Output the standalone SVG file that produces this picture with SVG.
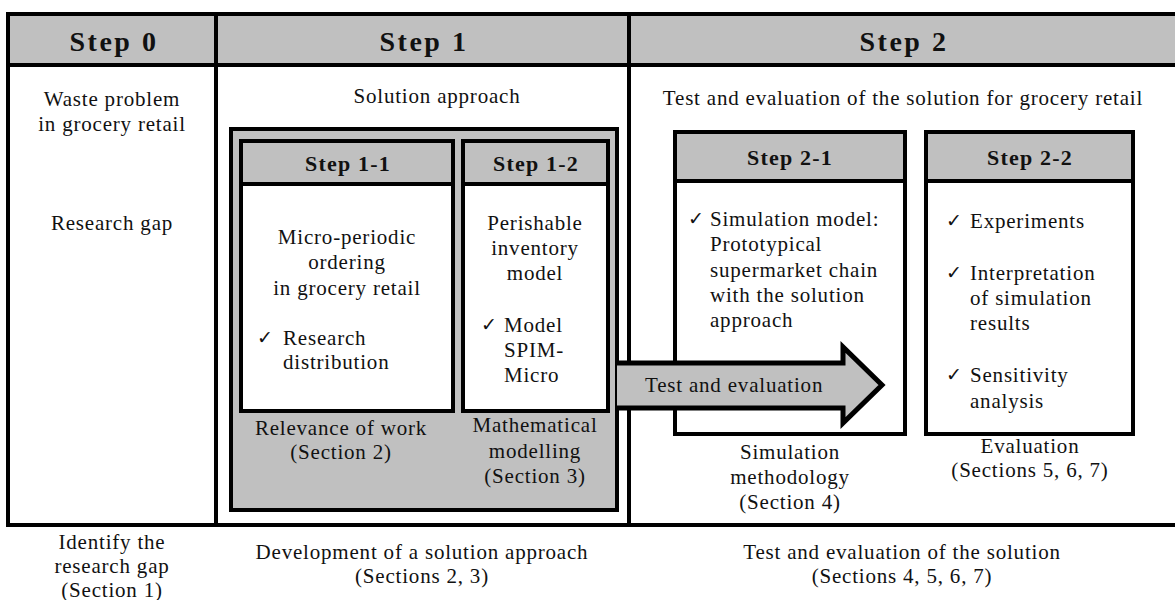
<svg xmlns="http://www.w3.org/2000/svg" width="1175" height="600" viewBox="0 0 1175 600">
<style>
text{font-family:"Liberation Serif","DejaVu Serif",serif;font-size:21px;letter-spacing:0.8px;fill:#111;dominant-baseline:central}
.c{text-anchor:middle}
.h{font-size:28px;font-weight:bold;letter-spacing:2.5px}
.sh{font-size:22px;font-weight:bold;letter-spacing:1.2px}
.ck{font-family:"DejaVu Sans",sans-serif;font-size:19px;font-weight:bold;letter-spacing:0}
.g{fill:#c0c0c0}
.b{fill:none;stroke:#000;stroke-width:4}
.w{fill:#fff;stroke:#000;stroke-width:4}
</style>
<rect width="1175" height="600" fill="#fff"/>
<g id="table">
<rect x="8" y="14" width="1172" height="51" class="g"/>
<rect x="8" y="14" width="1172" height="511" class="b"/>
<line x1="8" y1="65" x2="1180" y2="65" stroke="#000" stroke-width="4"/>
<line x1="216" y1="14" x2="216" y2="525" stroke="#000" stroke-width="4"/>
<line x1="629" y1="14" x2="629" y2="525" stroke="#000" stroke-width="4"/>
<text x="114" y="41" class="c h">Step 0</text>
<text x="424" y="41" class="c h">Step 1</text>
<text x="904" y="41" class="c h">Step 2</text>
</g>
<g id="step0">
<text x="112" y="99" class="c">Waste problem</text>
<text x="112" y="124" class="c">in grocery retail</text>
<text x="112" y="223" class="c">Research gap</text>
<text x="112" y="542" class="c">Identify the</text>
<text x="112" y="566" class="c">research gap</text>
<text x="112" y="590" class="c">(Section 1)</text>
</g>
<g id="step1">
<text x="437" y="96" class="c">Solution approach</text>
<rect x="231" y="129" width="386" height="381" class="g" stroke="#000" stroke-width="4"/>
<text x="341" y="428" class="c">Relevance of work</text>
<text x="341" y="452" class="c">(Section 2)</text>
<text x="535" y="425" class="c">Mathematical</text>
<text x="535" y="451" class="c">modelling</text>
<text x="535" y="476" class="c">(Section 3)</text>
<text x="422" y="552" class="c">Development of a solution approach</text>
<text x="422" y="576" class="c">(Sections 2, 3)</text>
</g>
<g id="step1-1">
<rect x="241" y="141" width="212" height="270" class="w"/>
<rect x="243" y="143" width="208" height="40" class="g"/>
<line x1="241" y1="184" x2="453" y2="184" stroke="#000" stroke-width="4"/>
<text x="348" y="163" class="c sh">Step 1-1</text>
<text x="347" y="237" class="c">Micro-periodic</text>
<text x="347" y="262" class="c">ordering</text>
<text x="347" y="288" class="c">in grocery retail</text>
<text x="257" y="337" class="ck">✓</text>
<text x="283" y="338">Research</text>
<text x="283" y="362">distribution</text>
</g>
<g id="step1-2">
<rect x="463" y="141" width="145" height="270" class="w"/>
<rect x="465" y="143" width="141" height="40" class="g"/>
<line x1="463" y1="184" x2="608" y2="184" stroke="#000" stroke-width="4"/>
<text x="536" y="163" class="c sh">Step 1-2</text>
<text x="535" y="223" class="c">Perishable</text>
<text x="535" y="248" class="c">inventory</text>
<text x="535" y="273" class="c">model</text>
<text x="481" y="324" class="ck">✓</text>
<text x="504" y="325">Model</text>
<text x="504" y="350">SPIM-</text>
<text x="504" y="375">Micro</text>
</g>
<g id="step2">
<text x="903" y="98" class="c">Test and evaluation of the solution for grocery retail</text>
<text x="902" y="552" class="c">Test and evaluation of the solution</text>
<text x="902" y="576" class="c">(Sections 4, 5, 6, 7)</text>
</g>
<g id="step2-1">
<rect x="675" y="132" width="230" height="302" class="w"/>
<rect x="677" y="134" width="226" height="46" class="g"/>
<line x1="675" y1="181" x2="905" y2="181" stroke="#000" stroke-width="4"/>
<text x="790" y="157" class="c sh">Step 2-1</text>
<text x="688" y="218" class="ck">✓</text>
<text x="710" y="219">Simulation model:</text>
<text x="710" y="244">Prototypical</text>
<text x="710" y="270">supermarket chain</text>
<text x="710" y="295">with the solution</text>
<text x="710" y="320">approach</text>
<text x="790" y="452" class="c">Simulation</text>
<text x="790" y="477" class="c">methodology</text>
<text x="790" y="502" class="c">(Section 4)</text>
</g>
<g id="step2-2">
<rect x="926" y="132" width="207" height="302" class="w"/>
<rect x="928" y="134" width="203" height="46" class="g"/>
<line x1="926" y1="181" x2="1133" y2="181" stroke="#000" stroke-width="4"/>
<text x="1030" y="157" class="c sh">Step 2-2</text>
<text x="946" y="220" class="ck">✓</text>
<text x="970" y="221">Experiments</text>
<text x="946" y="272" class="ck">✓</text>
<text x="970" y="273">Interpretation</text>
<text x="970" y="298">of simulation</text>
<text x="970" y="323">results</text>
<text x="946" y="374" class="ck">✓</text>
<text x="970" y="375">Sensitivity</text>
<text x="970" y="401">analysis</text>
<text x="1030" y="446" class="c">Evaluation</text>
<text x="1030" y="470" class="c">(Sections 5, 6, 7)</text>
</g>
<g id="connectors">
<polygon points="617,363 843,363 843,347 882,385 843,423 843,408 617,408" class="g"/>
<polyline points="617,363 843,363 843,347 882,385 843,423 843,408 617,408" fill="none" stroke="#000" stroke-width="5"/>
<text x="645" y="385">Test and evaluation</text>
</g>
</svg>
